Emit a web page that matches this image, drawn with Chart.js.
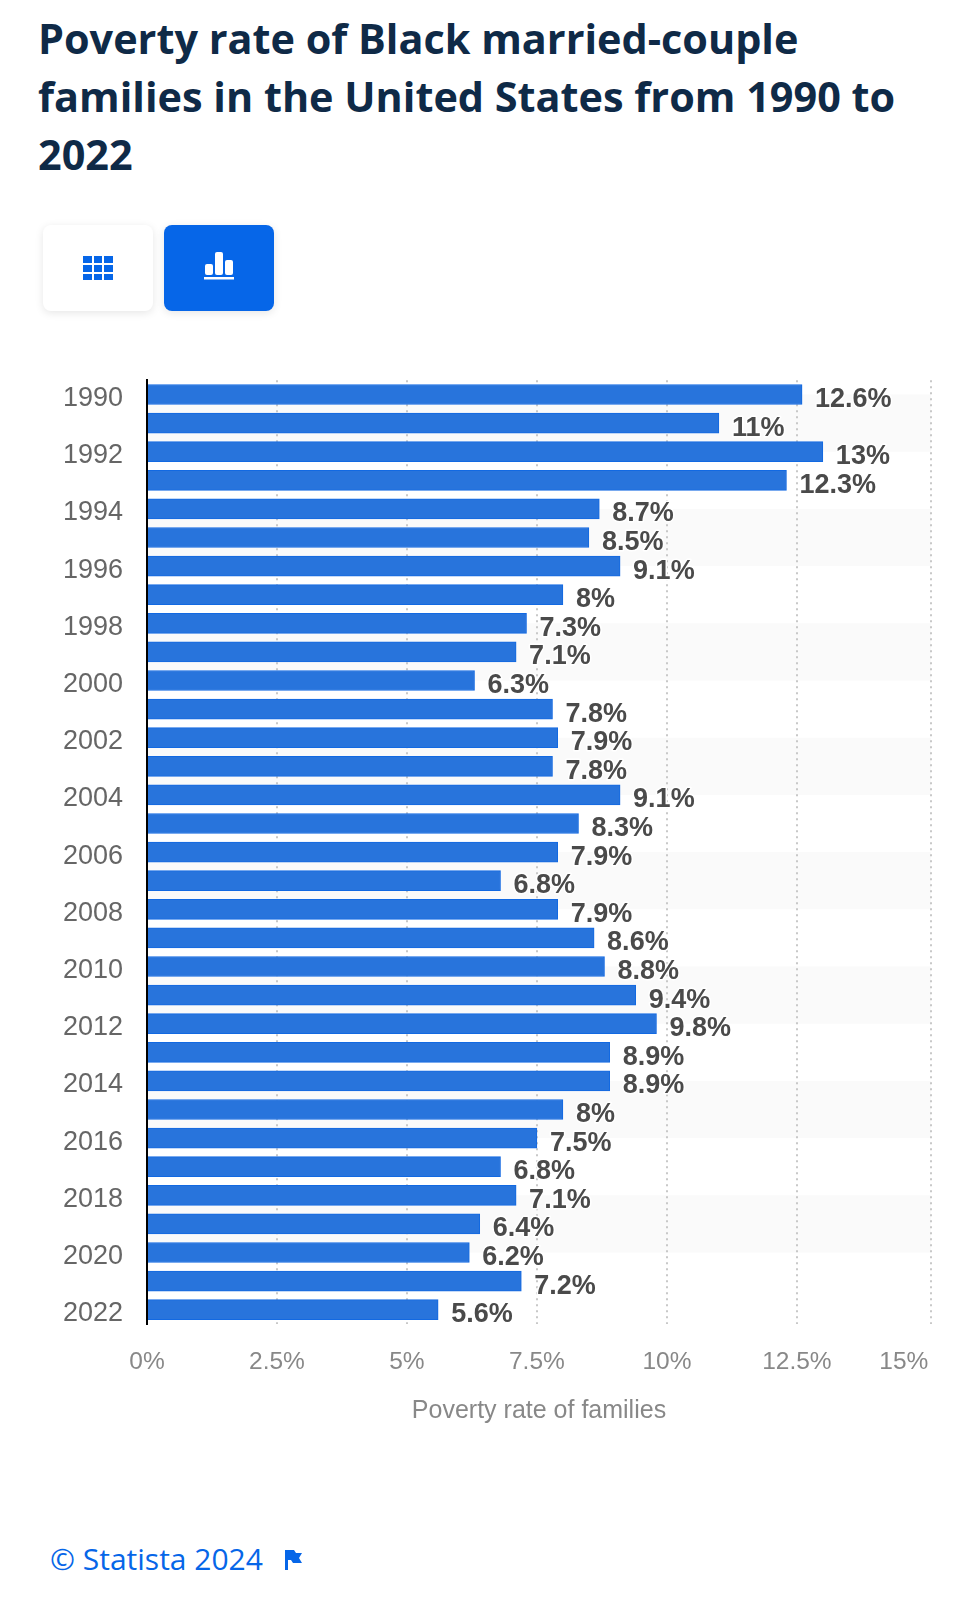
<!DOCTYPE html>
<html>
<head>
<meta charset="utf-8">
<title>Poverty rate of Black married-couple families</title>
<script src="https://cdn.jsdelivr.net/npm/chart.js@4"></script>
<style>
    html, body { margin: 0; background: #fff; }
    body { position: relative; width: 980px; height: 1600px; overflow: hidden; }
    h1 {
        position: absolute; left: 38px; top: 9px; width: 900px; margin: 0;
        font: 700 41.4px/58px "Open Sans", sans-serif; color: #0f2a47;
    }
    .btn { position: absolute; top: 225px; width: 110px; height: 86px; border-radius: 8px; box-shadow: 0 2px 8px rgba(0,0,0,.1); }
    .btn svg { position: absolute; left: 35px; top: 26px; }
    #btnTable { left: 43px; background: #fff; }
    #btnChart { left: 164px; background: #0666e8; }
    #chart { position: absolute; left: 0; top: 340px; }
    #credit { position: absolute; left: 50px; top: 1537px; font: 30px/44px "Open Sans", sans-serif; color: #0666e8; }
    #flag { position: absolute; left: 283px; top: 1549px; }
</style>
</head>
<body>
<h1>Poverty rate of Black married-couple families in the United States from 1990 to 2022</h1>

<div class="btn" id="btnTable">
    <svg width="40" height="34" viewBox="0 0 40 34" fill="#0666e8">
        <rect x="5" y="5" width="9" height="7"/><rect x="16" y="5" width="8" height="7"/><rect x="26" y="5" width="9" height="7"/>
        <rect x="5" y="14" width="9" height="7"/><rect x="16" y="14" width="8" height="7"/><rect x="26" y="14" width="9" height="7"/>
        <rect x="5" y="23" width="9" height="6"/><rect x="16" y="23" width="8" height="6"/><rect x="26" y="23" width="9" height="6"/>
    </svg>
</div>
<div class="btn" id="btnChart">
    <svg width="40" height="34" viewBox="0 0 40 34" fill="#fff">
        <rect x="6" y="13" width="8" height="11" rx="2"/><rect x="16" y="1" width="8" height="23" rx="2"/><rect x="26" y="9" width="8" height="15" rx="2"/>
        <rect x="5" y="26" width="30" height="2.5"/>
    </svg>
</div>

<canvas id="chart" width="980" height="1100"></canvas>

<div id="credit">© Statista 2024</div>
<svg id="flag" width="20" height="22" viewBox="0 0 20 22" fill="#0666e8"><path d="M2 1h9l2 3h6l-3 5 3 5H10l-2-3H5v10H2z"/></svg>

<script>
const years = ["1990","1991","1992","1993","1994","1995","1996","1997","1998","1999","2000","2001","2002","2003","2004","2005","2006","2007","2008","2009","2010","2011","2012","2013","2014","2015","2016","2017","2018","2019","2020","2021","2022"];
const povertyRates = [12.6,11,13,12.3,8.7,8.5,9.1,8,7.3,7.1,6.3,7.8,7.9,7.8,9.1,8.3,7.9,6.8,7.9,8.6,8.8,9.4,9.8,8.9,8.9,8,7.5,6.8,7.1,6.4,6.2,7.2,5.6];
const xTicks = [0,2.5,5,7.5,10,12.5,15];
const xAxisEnd = 15.08; // the 15% line sits on the plot edge, a little past true 15

// grey bands behind the bars, two years on, two years off
const bandPlugin = {
    id: 'bands',
    beforeDraw(chart) {
        const { ctx, chartArea, scales } = chart;
        ctx.save();
        ctx.fillStyle = '#fafafa';
        for (let i = 0; i + 2 < years.length; i += 4) {
            const top = scales.y.getPixelForValue(i);
            const bottom = scales.y.getPixelForValue(i + 2);
            ctx.fillRect(chartArea.left, top, chartArea.right - chartArea.left, bottom - top);
        }
        ctx.restore();
    }
};

// value labels to the right of the bars
const valueLabelPlugin = {
    id: 'valueLabels',
    afterDatasetsDraw(chart) {
        const { ctx } = chart;
        ctx.save();
        ctx.font = 'bold 27px "Liberation Sans", Arial, sans-serif';
        ctx.textAlign = 'left';
        ctx.textBaseline = 'middle';
        ctx.lineJoin = 'round';
        chart.getDatasetMeta(0).data.forEach(function (bar, i) {
            const text = povertyRates[i] + '%';
            ctx.lineWidth = 3;
            ctx.strokeStyle = '#fff';
            ctx.strokeText(text, bar.x + 13, bar.y + 5);
            ctx.fillStyle = '#4a4a4a';
            ctx.fillText(text, bar.x + 13, bar.y + 5);
        });
        ctx.restore();
    }
};

new Chart(document.querySelector('#chart').getContext('2d'), {
    type: 'bar',
    data: {
        labels: years,
        datasets: [{
            data: povertyRates,
            backgroundColor: '#2874dc',
            borderColor: '#1269e2',
            borderWidth: 1,
            barThickness: 20
        }]
    },
    options: {
        indexAxis: 'y',
        responsive: false,
        animation: false,
        devicePixelRatio: 1,
        layout: { padding: { left: 0, right: 49, top: 40, bottom: 0 } },
        plugins: { legend: { display: false }, tooltip: { enabled: false } },
        scales: {
            x: {
                min: 0,
                max: xAxisEnd,
                afterBuildTicks(axis) { axis.ticks = xTicks.map(v => ({ value: v === 15 ? xAxisEnd : v })); },
                afterFit(axis) {
                    axis.height = 116;
                    // the spaced last label must not shrink the plot
                    axis.paddingLeft = 0;
                    axis.paddingRight = 0;
                },
                grid: { color: '#c8c8c8', lineWidth: 2, drawTicks: false },
                border: { display: false, dash: [2, 4] },
                ticks: {
                    padding: 24,
                    maxRotation: 0,
                    autoSkip: false,
                    color: '#888888',
                    font: { family: '"Liberation Sans", Arial, sans-serif', size: 24.5 },
                    // last label sits left of its gridline, as on the site
                    callback: v => v === xAxisEnd ? '15%' + '\u00a0'.repeat(8) : v + '%'
                },
                title: {
                    display: true,
                    text: 'Poverty rate of families',
                    color: '#888888',
                    padding: { top: 0, bottom: 14 },
                    font: { family: '"Liberation Sans", Arial, sans-serif', size: 25 }
                }
            },
            y: {
                afterFit(axis) { axis.width = 147; },
                grid: { display: false, drawTicks: false },
                border: { color: '#000', width: 2 },
                ticks: {
                    padding: 24,
                    autoSkip: false,
                    labelOffset: 4,
                    color: '#666666',
                    font: { family: '"Liberation Sans", Arial, sans-serif', size: 27 },
                    callback(v, i) { return i % 2 === 0 ? years[i] : ''; }
                }
            }
        }
    },
    plugins: [bandPlugin, valueLabelPlugin]
});
</script>
</body>
</html>
